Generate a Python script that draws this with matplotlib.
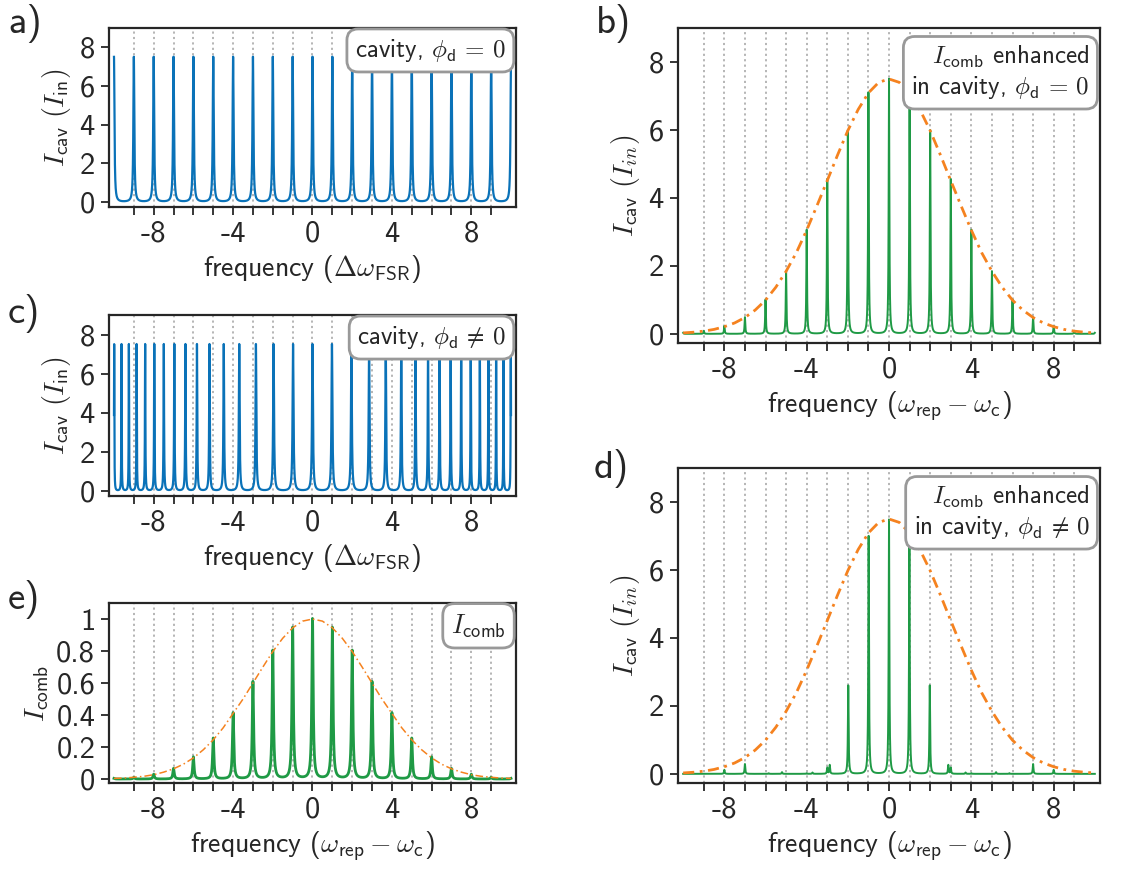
import numpy as np
import matplotlib
matplotlib.use('Agg')
import matplotlib.pyplot as plt

plt.rcParams['font.family'] = ['cmss10', 'DejaVu Sans']
plt.rcParams['mathtext.fontset'] = 'cm'
plt.rcParams['axes.unicode_minus'] = False
plt.rcParams['axes.formatter.use_mathtext'] = True

# ---- data ----
# a) cavity modes, phi_d = 0 (peaks at every FSR)
a_pos = [-10, -9, -8, -7, -6, -5, -4, -3, -2, -1, 0, 1, 2, 3, 4, 5, 6, 7, 8, 9, 10]
a_hts = [7.5] * 21
# c) cavity modes, phi_d != 0 (spacing grows towards the centre)
c_pos = [-9.99, -9.62, -9.25, -8.86, -8.43, -7.97, -7.49, -6.96, -6.40, -5.82,
         -5.19, -4.47, -3.69, -2.85, -1.96, -0.98, 0.0, 0.98, 1.96, 2.85, 3.69,
         4.47, 5.19, 5.82, 6.40, 6.96, 7.49, 7.97, 8.43, 8.86, 9.25, 9.62, 9.99]
c_hts = [7.5] * 33
# local mode spacing in c) (linewidth follows it)
c_spc = [0.37, 0.37, 0.38, 0.41, 0.45, 0.48, 0.52, 0.55, 0.57, 0.61,
         0.67, 0.75, 0.81, 0.86, 0.93, 0.98, 0.98, 0.98, 0.93, 0.86, 0.81,
         0.75, 0.67, 0.61, 0.57, 0.55, 0.52, 0.48, 0.45, 0.41, 0.38, 0.37, 0.37]
# e) comb teeth
e_pos = a_pos
e_hts = [0.004, 0.011, 0.030, 0.066, 0.138, 0.255, 0.413, 0.608, 0.803, 0.946, 1.0,
         0.946, 0.803, 0.608, 0.413, 0.255, 0.138, 0.066, 0.030, 0.011, 0.004]
# b) comb enhanced in cavity, phi_d = 0
b_pos = a_pos
b_hts = [0.03, 0.09, 0.23, 0.49, 1.01, 1.84, 3.06, 4.55, 5.99, 7.10, 7.5,
         7.10, 5.99, 4.55, 3.06, 1.84, 1.01, 0.49, 0.23, 0.09, 0.03]
# d) comb enhanced in cavity, phi_d != 0
d_pos = [-8.0, -7.0, -5.85, -5.2, -4.0, -3.72, -3.0, -2.88, -1.98, -0.99, 0.0,
         0.99, 1.98, 2.88, 3.0, 3.72, 4.0, 5.2, 5.85, 7.0, 8.0]
d_hts = [0.12, 0.29, 0.02, 0.05, 0.02, 0.04, 0.18, 0.26, 2.6, 7.0, 7.48,
         7.0, 2.6, 0.26, 0.18, 0.04, 0.02, 0.05, 0.02, 0.29, 0.12]
# gaussian comb envelope, sampled every half FSR (0 .. 10, symmetric)
env_half = [0.0, 0.5, 1.0, 1.5, 2.0, 2.5, 3.0, 3.5, 4.0, 4.5, 5.0,
            5.5, 6.0, 6.5, 7.0, 7.5, 8.0, 8.5, 9.0, 9.5, 10.0]
env_cav = [7.5, 7.40, 7.09, 6.60, 5.98, 5.26, 4.51, 3.77, 3.05, 2.39, 1.84,
           1.37, 0.99, 0.70, 0.48, 0.32, 0.21, 0.13, 0.079, 0.047, 0.027]
env_comb = [1.0, 0.987, 0.945, 0.88, 0.797, 0.70, 0.60, 0.50, 0.41, 0.32, 0.245,
            0.183, 0.132, 0.093, 0.064, 0.043, 0.027, 0.017, 0.011, 0.006, 0.004]

blue = '#0a72b8'
green = '#1f9a45'
orange = '#f5821f'
ink = '#262626'
xx = np.linspace(-10, 10, 16001)


def lineshape(pos, hts, gam):
    gam = np.broadcast_to(gam, (len(pos),))
    y = np.zeros_like(xx)
    for p, h, g in zip(pos, hts, gam):
        y += h / (1 + ((xx - p) / g) ** 2)
    return y


def mirror(v):
    v = np.asarray(v, dtype=float)
    return np.concatenate([v[:0:-1], v])


env_x = np.concatenate([-np.asarray(env_half[:0:-1]), env_half])


def style(ax, ylim, yticks, yticklabels=None):
    ax.set_xlim(-10.25, 10.25)
    ax.set_ylim(*ylim)
    for n in range(-9, 10):
        ax.axvline(n, color='#b0b0b0', ls=(0, (1.2, 1.8)), lw=1.3, zorder=0)
    ax.set_xticks(range(-9, 10))
    ax.set_xticklabels([str(n) if n % 4 == 0 else '' for n in range(-9, 10)])
    ax.set_yticks(yticks)
    if yticklabels is not None:
        ax.set_yticklabels(yticklabels)
    ax.tick_params(direction='out', length=6, width=1.3, labelsize=22, color=ink,
                   labelcolor=ink, pad=4)
    for s in ax.spines.values():
        s.set_linewidth(1.6)
        s.set_color(ink)


def tag(ax, txt, fs=18):
    ax.text(0.975, 0.95, txt, transform=ax.transAxes, ha='right', va='top',
            fontsize=fs, color=ink, linespacing=1.2, zorder=5,
            bbox=dict(boxstyle='round,pad=0.32,rounding_size=0.45', fc='white',
                      ec='#999999', lw=2))


fig = plt.figure(figsize=(11.38, 8.75), dpi=100)
ax_a = fig.add_axes([0.0958, 0.7634, 0.3576, 0.2046])
ax_c = fig.add_axes([0.0958, 0.4331, 0.3576, 0.2069])
ax_e = fig.add_axes([0.0958, 0.1051, 0.3576, 0.2057])
ax_b = fig.add_axes([0.5958, 0.6080, 0.3708, 0.3600])
ax_d = fig.add_axes([0.5958, 0.1051, 0.3708, 0.3600])

xl_fsr = r'frequency ($\Delta\omega_{\mathsf{FSR}}$)'
xl_rep = r'frequency ($\omega_{\mathsf{rep}} - \omega_{\mathsf{c}}$)'
yl_in = r'$I_{\mathsf{cav}}\ (I_{\mathsf{in}})$'
yl_in2 = r'$I_{\mathsf{cav}}\ (I_{in})$'
lab_fs = 20

# a)
ax_a.plot(xx, lineshape(a_pos, a_hts, 0.028), color=blue, lw=1.6)
style(ax_a, (-0.25, 9.0), [0, 2, 4, 6, 8])
ax_a.set_xlabel(xl_fsr, fontsize=lab_fs, color=ink)
ax_a.set_ylabel(yl_in, fontsize=lab_fs, color=ink)
tag(ax_a, r'cavity, $\phi_{\mathsf{d}}\,=\,0$')

# c)
ax_c.plot(xx, lineshape(c_pos, c_hts, 0.028 * np.asarray(c_spc)), color=blue, lw=1.6)
style(ax_c, (-0.25, 9.0), [0, 2, 4, 6, 8])
ax_c.set_xlabel(xl_fsr, fontsize=lab_fs, color=ink)
ax_c.set_ylabel(yl_in, fontsize=lab_fs, color=ink)
tag(ax_c, r'cavity, $\phi_{\mathsf{d}}\,\neq\,0$')

# e)
ax_e.plot(xx, lineshape(e_pos, e_hts, 0.04), color=green, lw=2.0)
ax_e.plot(env_x, mirror(env_comb), color=orange, lw=1.1, dashes=(5, 2, 1, 2))
style(ax_e, (-0.025, 1.1), [0, 0.2, 0.4, 0.6, 0.8, 1.0],
      ['0', '0.2', '0.4', '0.6', '0.8', '1'])
ax_e.set_xlabel(xl_rep, fontsize=lab_fs, color=ink)
ax_e.set_ylabel(r'$I_{\mathsf{comb}}$', fontsize=lab_fs, color=ink)
tag(ax_e, r'$I_{\mathsf{comb}}$', fs=19)

# b)
ax_b.plot(xx, lineshape(b_pos, b_hts, 0.02), color=green, lw=1.4)
ax_b.plot(env_x, mirror(env_cav), color=orange, lw=2.0, dashes=(4, 2, 1, 2))
style(ax_b, (-0.27, 9.0), [0, 2, 4, 6, 8])
ax_b.set_xlabel(xl_rep, fontsize=lab_fs, color=ink)
ax_b.set_ylabel(yl_in2, fontsize=lab_fs, color=ink)
tag(ax_b, r'$I_{\mathsf{comb}}$ enhanced' + '\n' + r'in cavity, $\phi_{\mathsf{d}}\,=\,0$')

# d)
ax_d.plot(xx, lineshape(d_pos, d_hts, 0.02), color=green, lw=1.4)
ax_d.plot(env_x, mirror(env_cav), color=orange, lw=2.0, dashes=(4, 2, 1, 2))
style(ax_d, (-0.27, 9.0), [0, 2, 4, 6, 8])
ax_d.set_xlabel(xl_rep, fontsize=lab_fs, color=ink)
ax_d.set_ylabel(yl_in2, fontsize=lab_fs, color=ink)
tag(ax_d, r'$I_{\mathsf{comb}}$ enhanced' + '\n' + r'in cavity, $\phi_{\mathsf{d}}\,\neq\,0$')

# panel letters
for lab, x, y in [('a)', 8, 4), ('b)', 596, 4), ('c)', 8, 294), ('d)', 594, 449), ('e)', 8, 580)]:
    fig.text(x / 1138, 1 - y / 875, lab, fontsize=28, ha='left', va='top', color=ink)

plt.savefig('out.png', dpi=100)
